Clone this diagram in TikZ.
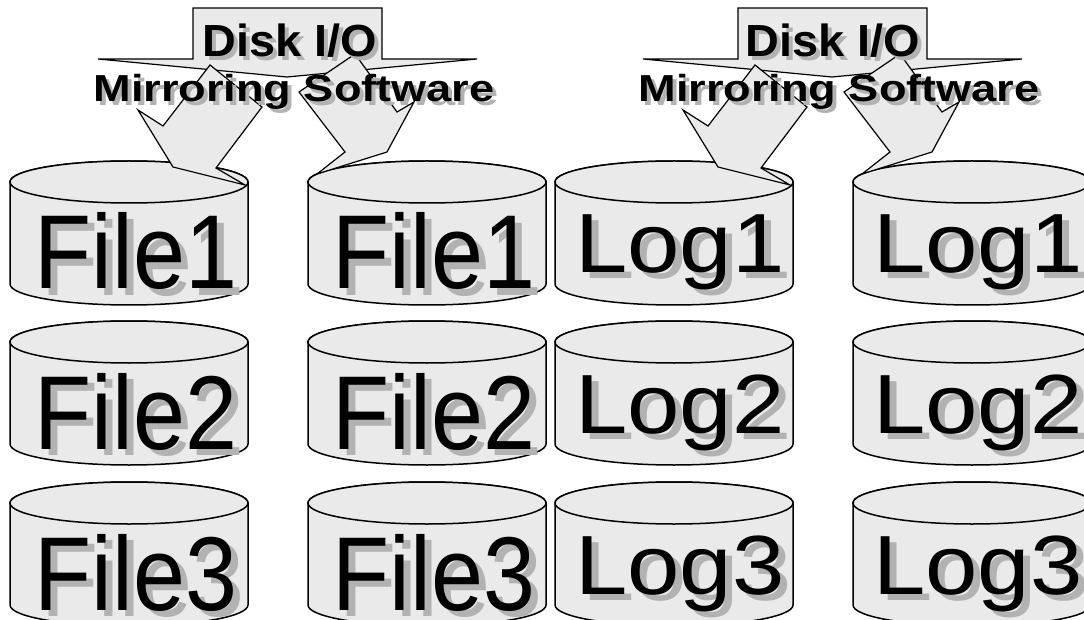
\documentclass[tikz,border=0pt]{standalone}
\usepackage{fontspec}
\setmainfont{Liberation Sans}
\definecolor{diskgray}{RGB}{234,234,234}
\definecolor{shadowgray}{RGB}{178,178,178}
\tikzset{
	diskline/.style={draw=black, fill=diskgray, line width=1.5pt},
	blockarrow/.style={draw=black, fill=diskgray, line width=1.2pt, line join=miter},
	filelbl/.style={anchor=base, inner sep=0pt, xshift=7pt, yshift=-107pt, xscale=0.89, font=\fontsize{105}{105}\selectfont},
	loglbl/.style={anchor=base, inner sep=0pt, xshift=6pt, yshift=-91pt, xscale=1.12, font=\fontsize{84}{84}\selectfont},
	disklbl/.style={anchor=base, inner sep=0pt, xscale=1.04, font=\fontsize{45}{45}\selectfont\bfseries},
	mirrorlbl/.style={anchor=base, inner sep=0pt, xscale=1.2, font=\fontsize{37.6}{37.6}\selectfont\bfseries}
}
% name, centre x, top y, label style, label
\def\disk#1#2#3#4#5{
	\draw[diskline] (#2-119,#3) -- (#2-119,#3+102) arc (180:0:119 and 21) -- (#2+119,#3) arc (360:180:119 and 21) -- cycle;
	\draw[diskline] (#2,#3) ellipse (119 and 21);
	\node[xshift=7pt, yshift=-6pt, #4, text=shadowgray] (#1s) at (#2,#3) {#5};
	\node[#4] (#1) at (#2,#3) {#5};
}
% name, centre x, baseline y, style, text
\def\shadowtext#1#2#3#4#5{
	\node[xshift=4pt, yshift=-4pt, #4, text=shadowgray] (#1s) at (#2,#3) {#5};
	\node[#4] (#1) at (#2,#3) {#5};
}
\begin{document}
\begin{tikzpicture}[x=1pt,y=-1pt]
			%%%%% START %%%%%
			\useasboundingbox (0,0) rectangle (1084,620);
			
			\disk{file1a}{129}{182}{filelbl}{File1}
			\disk{file1b}{427}{182}{filelbl}{File1}
			\disk{log1a}{674}{182}{loglbl}{Log1}
			\disk{log1b}{972}{182}{loglbl}{Log1}
			
			\disk{file2a}{129}{342}{filelbl}{File2}
			\disk{file2b}{427}{342}{filelbl}{File2}
			\disk{log2a}{674}{342}{loglbl}{Log2}
			\disk{log2b}{972}{342}{loglbl}{Log2}
			
			\disk{file3a}{129}{503}{filelbl}{File3}
			\disk{file3b}{427}{503}{filelbl}{File3}
			\disk{log3a}{674}{503}{loglbl}{Log3}
			\disk{log3b}{972}{503}{loglbl}{Log3}
			
			% disk I/O arrows
			\draw[blockarrow] (193,8) -- (382,8) -- (382,59) -- (477,59) -- (287,77) -- (98,59) -- (193,59) -- cycle;
			\draw[blockarrow] (738,8) -- (927,8) -- (927,59) -- (1022,59) -- (832,77) -- (643,59) -- (738,59) -- cycle;
			
			% mirror arrows, file side
			\draw[blockarrow] (210,65) -- (262,107) -- (216,168) -- (245,185) -- (173,167) -- (138,110) -- (163,126) -- cycle;
			\draw[blockarrow] (355,54) -- (299,92) -- (345,152) -- (317,174) -- (387,152) -- (414,102) -- (397,112) -- cycle;
			
			% mirror arrows, log side
			\draw[blockarrow] (755,65) -- (807,107) -- (761,168) -- (790,185) -- (718,167) -- (683,110) -- (708,126) -- cycle;
			\draw[blockarrow] (900,54) -- (844,92) -- (890,152) -- (862,174) -- (932,152) -- (959,102) -- (942,112) -- cycle;
			
			\shadowtext{diskio1}{290}{57}{disklbl}{Disk I/O}
			\shadowtext{mirror1}{294}{102}{mirrorlbl}{Mirroring Software}
			\shadowtext{diskio2}{833}{57}{disklbl}{Disk I/O}
			\shadowtext{mirror2}{839}{102}{mirrorlbl}{Mirroring Software}
			%%%%% END %%%%%
\end{tikzpicture}
\end{document}
